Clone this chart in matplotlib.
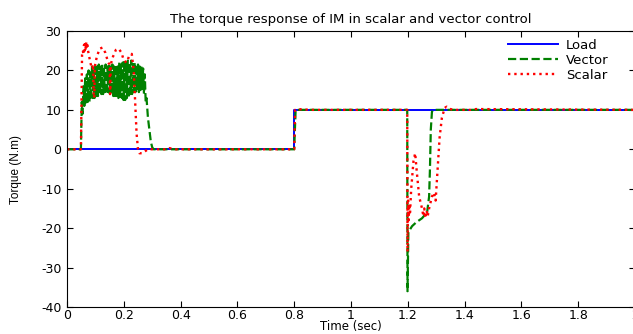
import numpy as np
import matplotlib
matplotlib.use("Agg")
import matplotlib.pyplot as plt

plt.rcParams['font.family'] = ['DejaVu Sans']
plt.rcParams['axes.unicode_minus'] = False

# load torque: step at 0.8 s
load_t = [0.0, 0.8, 0.8, 2.0]
load_v = [0.0, 0.0, 10.0, 10.0]

# vector control torque
vector_t = [0.000, 0.049, 0.052, 0.055, 0.058, 0.061, 0.064, 0.067, 0.070, 0.073,
            0.076, 0.079, 0.082, 0.085, 0.088, 0.091, 0.094, 0.097, 0.100, 0.103,
            0.106, 0.109, 0.112, 0.115, 0.118, 0.121, 0.124, 0.127, 0.130, 0.133,
            0.136, 0.139, 0.142, 0.145, 0.148, 0.151, 0.154, 0.157, 0.160, 0.163,
            0.166, 0.169, 0.172, 0.175, 0.178, 0.181, 0.184, 0.187, 0.190, 0.193,
            0.196, 0.199, 0.202, 0.205, 0.208, 0.211, 0.214, 0.217, 0.220, 0.223,
            0.226, 0.229, 0.232, 0.235, 0.238, 0.241, 0.244, 0.247, 0.250, 0.253,
            0.256, 0.259, 0.262, 0.265, 0.268, 0.271, 0.274, 0.277, 0.280, 0.285,
            0.290, 0.295, 0.300, 0.305, 0.800, 0.805, 1.198, 1.199, 1.202, 1.215,
            1.230, 1.250, 1.268, 1.275, 1.278, 1.281, 1.285, 1.290, 2.000]
vector_v = [0.0, 0.0, 12.0, 9.0, 16.0, 11.0, 18.0, 11.5, 19.0, 12.0,
            20.0, 12.0, 19.5, 12.5, 21.0, 13.0, 20.0, 13.0, 21.5, 13.5,
            21.0, 13.5, 21.5, 14.0, 21.0, 14.0, 21.5, 14.0, 21.0, 14.5,
            21.5, 14.0, 21.0, 14.5, 21.5, 14.0, 21.0, 14.0, 21.5, 13.5,
            21.0, 13.5, 21.5, 13.5, 21.0, 13.0, 22.0, 13.0, 21.5, 13.0,
            22.0, 12.5, 22.5, 12.5, 22.0, 13.0, 22.5, 13.0, 22.0, 14.0,
            22.5, 14.0, 22.0, 14.5, 22.0, 14.5, 21.5, 15.0, 21.5, 14.5,
            21.0, 15.0, 21.0, 15.0, 20.5, 14.0, 19.0, 12.0, 13.0, 8.0,
            5.0, 2.0, 0.5, 0.0, 0.0, 10.0, 10.0, -36.0, -21.0, -19.5,
            -18.5, -17.5, -16.0, -12.0, -5.0, 5.0, 9.5, 10.0, 10.0]

# scalar control torque
scalar_t = [0.000, 0.049, 0.051, 0.053, 0.056, 0.058, 0.060, 0.062, 0.064, 0.066,
            0.068, 0.070, 0.072, 0.074, 0.077, 0.082, 0.088, 0.092, 0.094, 0.096,
            0.098, 0.105, 0.115, 0.125, 0.135, 0.145, 0.150, 0.152, 0.154, 0.162,
            0.172, 0.182, 0.192, 0.200, 0.210, 0.218, 0.228, 0.235, 0.240, 0.245,
            0.250, 0.255, 0.265, 0.275, 0.285, 0.350, 0.360, 0.380, 0.800, 0.803,
            0.830, 0.850, 1.198, 1.199, 1.201, 1.203, 1.205, 1.208, 1.212, 1.220,
            1.226, 1.232, 1.240, 1.250, 1.255, 1.258, 1.262, 1.266, 1.270, 1.275,
            1.285, 1.292, 1.298, 1.305, 1.312, 1.320, 1.330, 1.337, 1.345, 1.360,
            1.420, 1.440, 2.000]
scalar_v = [0.0, 0.0, 12.0, 24.0, 25.0, 24.0, 26.5, 25.0, 27.0, 25.5,
            27.3, 26.0, 26.8, 25.0, 24.0, 22.0, 20.5, 21.5, 14.0, 13.0,
            21.0, 23.5, 25.5, 25.8, 24.5, 22.0, 21.5, 14.0, 21.5, 23.5,
            25.2, 25.5, 24.5, 22.5, 22.0, 23.5, 24.2, 20.0, 12.0, 4.0,
            0.0, -1.0, -1.0, -0.5, 0.0, 0.0, 0.3, 0.0, 0.0, 10.0,
            10.2, 10.0, 10.0, -26.0, -13.0, -18.0, -14.0, -16.0, -10.0, -3.0,
            -1.0, -6.0, -12.0, -15.0, -17.0, -15.0, -17.5, -15.5, -17.0, -15.0,
            -12.0, -11.0, -13.0, -5.0, 3.0, 8.0, 10.5, 10.8, 10.3, 10.0,
            10.0, 10.2, 10.0]

fig = plt.figure(figsize=(6.33, 3.34), dpi=100)
ax = fig.add_axes([67 / 633, 27 / 334, 568 / 633, 276 / 334])

ax.plot(load_t, load_v, '-', color='#0000ff', linewidth=1.4, label='Load')
ax.plot(vector_t, vector_v, '--', color='#008000', linewidth=1.6, label='Vector')
ax.plot(scalar_t, scalar_v, ':', color='#ff0000', linewidth=1.7, label='Scalar')

ax.set_xlim(0, 2)
ax.set_ylim(-40, 30)
ax.set_xticks([0, 0.2, 0.4, 0.6, 0.8, 1.0, 1.2, 1.4, 1.6, 1.8, 2.0])
ax.set_xticklabels(['0', '0.2', '0.4', '0.6', '0.8', '1', '1.2', '1.4', '1.6', '1.8', '2'])
ax.set_yticks([-40, -30, -20, -10, 0, 10, 20, 30])
ax.tick_params(direction='in', top=True, right=True, length=4, width=0.8, labelsize=9)
ax.tick_params(axis='x', pad=1.5)
ax.tick_params(axis='y', pad=4)
for s in ax.spines.values():
    s.set_linewidth(0.8)

ax.set_title('The torque response of IM in scalar and vector control', fontsize=9.5, pad=6)
ax.set_xlabel('Time (sec)', fontsize=8.5, va='bottom')
ax.xaxis.set_label_coords(0.5, -0.094)
ax.set_ylabel('Torque (N.m)', fontsize=8.5, family='Liberation Sans')
ax.yaxis.set_label_coords(-0.079, 0.5)

ax.legend(loc='upper left', bbox_to_anchor=(0.776, 0.972), frameon=False, fontsize=9.5,
          handlelength=3.8, handletextpad=0.6, labelspacing=0.15,
          borderpad=0, borderaxespad=0)

fig.savefig('out.png', dpi=100)
